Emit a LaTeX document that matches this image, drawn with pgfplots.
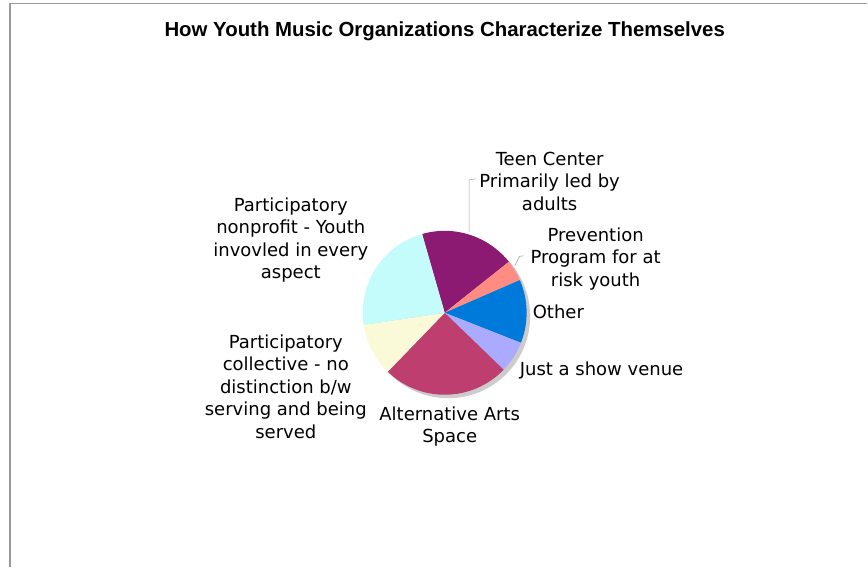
\documentclass[border=0pt]{standalone}
\usepackage{pgfplots}
\usepackage{pgfplotstable}
\pgfplotsset{compat=1.18}
\usepackage{fontspec}
\setmainfont{DejaVu Sans}
\newfontfamily\titlefont{Liberation Sans}

\definecolor{cTeen}{HTML}{8C1A72}
\definecolor{cPrev}{HTML}{FF8C82}
\definecolor{cOther}{HTML}{007ADA}
\definecolor{cShow}{HTML}{AAAAFF}
\definecolor{cAlt}{HTML}{BE3E6F}
\definecolor{cColl}{HTML}{FAFAD8}
\definecolor{cNonp}{HTML}{C4FCFC}

% counts, clockwise from the top
\pgfplotstableread{
name count col
Teen 9 cTeen
Prevention 2 cPrev
Other 6 cOther
Show 3 cShow
Alternative 12 cAlt
Collective 5 cColl
Nonprofit 11 cNonp
}\piedata

\begin{document}
\begin{tikzpicture}
\begin{axis}[
    width=868pt, height=567pt, scale only axis,
    xmin=0, xmax=868, ymin=0, ymax=567,
    hide axis, clip=false,
]
% keep the whole canvas in the bounding box
\path (axis cs:0,0) rectangle (axis cs:868,567);
% frame
\draw[gray!80, line width=1.2pt] (axis cs:10,0) -- (axis cs:10,563.5) -- (axis cs:868,563.5);
% title
\node[font=\titlefont\bfseries\fontsize{20.4}{24}\selectfont] at (axis cs:445,535.5) {How Youth Music Organizations Characterize Themselves};

% shadow
\fill[black!20] (axis cs:448.5,250.5) circle[radius=82];

\pgfplotstablegetrowsof{\piedata}
\pgfmathtruncatemacro\nrows{\pgfplotsretval-1}
\def\total{0}
\pgfplotsforeachungrouped \i in {0,...,\nrows}{%
  \pgfplotstablegetelem{\i}{count}\of\piedata
  \pgfmathsetmacro\total{\total+\pgfplotsretval}%
}
\def\acc{106}
\pgfplotsforeachungrouped \i in {0,...,\nrows}{%
  \pgfplotstablegetelem{\i}{count}\of\piedata \let\n=\pgfplotsretval
  \pgfplotstablegetelem{\i}{col}\of\piedata \let\c=\pgfplotsretval
  \pgfmathsetmacro\e{\acc-\n*360/\total}%
  \edef\temp{\noexpand\fill[\c] (axis cs:445,254) -- ++(\acc:82) arc[start angle=\acc, end angle=\e, radius=82] -- cycle;}%
  \temp
  \let\acc=\e
}

% leader lines
\draw[gray!70, line width=0.6pt] (axis cs:476,388) -- (axis cs:469.5,387) -- (axis cs:469.5,335);
\draw[gray!70, line width=0.6pt] (axis cs:524,311) -- (axis cs:520,310.5) -- (axis cs:515,301);

% labels (y = baseline of the last line)
\begin{scope}[every node/.style={font=\fontsize{18}{22.5}\selectfont, align=center, inner sep=0pt}]
\node[anchor=base] at (axis cs:550,356.5) {Teen Center\\Primarily led by\\adults};
\node[anchor=base] at (axis cs:596,280.5) {Prevention\\Program for at\\risk youth};
\node[anchor=base west] at (axis cs:533,248.5) {Other};
\node[anchor=base west] at (axis cs:520,191.5) {Just a show venue};
\node[anchor=base] at (axis cs:450,124) {Alternative Arts\\Space};
\node[anchor=base] at (axis cs:286,128.5) {Participatory\\collective - no\\distinction b/w\\serving and being\\served};
\node[anchor=base] at (axis cs:291,288) {Participatory\\nonprofit - Youth\\invovled in every\\aspect};
\end{scope}
\end{axis}
\end{tikzpicture}
\end{document}
